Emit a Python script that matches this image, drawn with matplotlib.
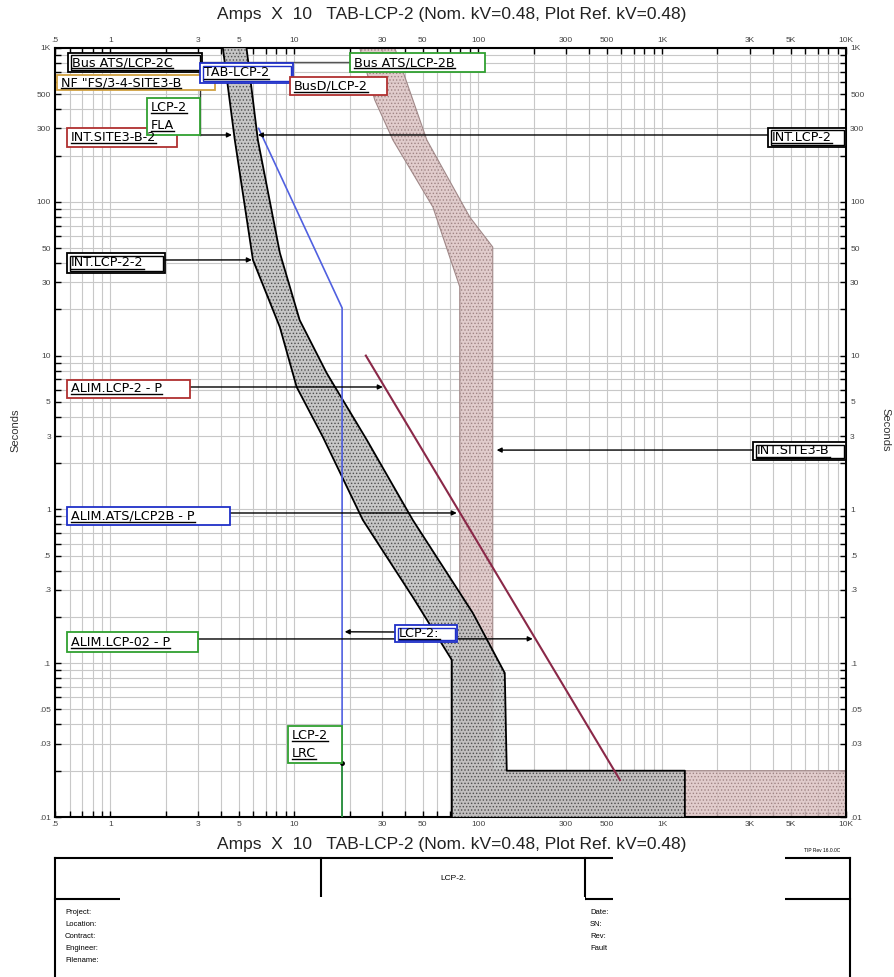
import matplotlib
matplotlib.use('Agg')
import matplotlib.pyplot as plt
from matplotlib.patches import Rectangle
from matplotlib.lines import Line2D

# ---- values (amps x 10 / seconds) ----
# INT.LCP-2-2 breaker band (grey)
lcp_lo_amps = [4.09, 4.75, 5.96, 8.35, 10.3, 14.3, 23.6, 44.1, 71.9, 71.9]
lcp_lo_secs = [1000, 252, 41.9, 15.3, 6.25, 2.96, 0.853, 0.269, 0.105, 0.01]
lcp_hi_amps = [5.5, 6.34, 8.35, 10.7, 15.0, 24.8, 44.1, 93.5, 139.5, 143, 1330, 1330]
lcp_hi_secs = [1000, 252, 46.5, 17.0, 7.7, 2.83, 0.853, 0.212, 0.0863, 0.02, 0.02, 0.01]

# INT.SITE3-B upstream breaker band (pink)
site_lo_amps = [22.7, 27.4, 34.4, 56.7, 79.4, 79.4]
site_lo_secs = [1000, 459, 252, 92.5, 28, 0.01]
site_hi_amps = [35.2, 52.6, 90, 120, 120, 20000, 20000]
site_hi_secs = [1000, 252, 79.6, 50.8, 0.02, 0.02, 0.01]

# TAB-LCP-2 damage curve (blue)
tab_amps = [6.4, 18.2, 18.2]
tab_secs = [300, 20.4, 0.01]

# ALIM cable I2t line (maroon)
alim_amps = [24.5, 590]
alim_secs = [10, 0.0174]

# LCP-2 LRC marker (green)
lrc_amps = [18.2, 18.2]
lrc_secs = [0.0224, 0.01]

x_ticks = [0.5, 1, 3, 5, 10, 30, 50, 100, 300, 500, 1000, 3000, 5000, 10000]
x_labels = ['.5', '1', '3', '5', '10', '30', '50', '100', '300', '500', '1K', '3K', '5K', '10K']
y_ticks = [0.01, 0.03, 0.05, 0.1, 0.3, 0.5, 1, 3, 5, 10, 30, 50, 100, 300, 500, 1000]
y_labels = ['.01', '.03', '.05', '.1', '.3', '.5', '1', '3', '5', '10', '30', '50', '100', '300', '500', '1K']

# label boxes: text lines, box in reference pixels, edge colour, double border
labels = [
    (['Bus ATS/LCP-2C'], 68, 53, 202, 72, 'black', True),
    (['NF "FS/3-4-SITE3-B'], 57, 75, 215, 90, '#d0a040', False),
    (['TAB-LCP-2'], 200, 63, 293, 83, '#2030c8', True),
    (['BusD/LCP-2'], 290, 77, 387, 95, '#b03030', False),
    (['Bus ATS/LCP-2B'], 350, 53, 485, 72, '#30a030', False),
    (['INT.SITE3-B-2'], 67, 128, 177, 147, '#b03030', False),
    (['LCP-2', 'FLA'], 147, 98, 200, 135, '#30a030', False),
    (['INT.LCP-2'], 768, 128, 846, 147, 'black', True),
    (['INT.LCP-2-2'], 67, 253, 165, 273, 'black', True),
    (['ALIM.LCP-2 - P'], 67, 380, 190, 398, '#b03030', False),
    (['INT.SITE3-B'], 753, 442, 846, 460, 'black', True),
    (['ALIM.ATS/LCP2B - P'], 67, 507, 230, 525, '#2030c8', False),
    (['ALIM.LCP-02 - P'], 67, 632, 198, 652, '#30a030', False),
    (['LCP-2:'], 395, 625, 457, 642, '#2030c8', True),
    (['LCP-2', 'LRC'], 288, 726, 342, 763, '#30a030', False),
]
# arrows: start (reference pixels), tip (amps, seconds)
arrows = [
    (165, 260, 5.88, 41.9),
    (190, 387, 30.3, 6.25),
    (753, 450, 126, 2.43),
    (230, 513, 76.5, 0.948),
    (198, 639, 198, 0.144),
    (395, 632, 18.8, 0.16),
    (200, 135, 4.58, 272),
    (768, 135, 6.34, 272),
]

W, H = 894, 977
AX_L, AX_R, AX_T, AX_B = 55, 846, 48, 817


def fx(px):
    return (px - AX_L) / (AX_R - AX_L)


def fy(py):
    return (AX_B - py) / (AX_B - AX_T)


plt.rcParams['font.family'] = ['Liberation Sans', 'DejaVu Sans']
plt.rcParams['hatch.linewidth'] = 0.6

fig = plt.figure(figsize=(W / 100, H / 100), dpi=100)
ax = fig.add_axes([AX_L / W, 1 - AX_B / H, (AX_R - AX_L) / W, (AX_B - AX_T) / H])
ax.set_xscale('log')
ax.set_yscale('log')
ax.set_xlim(0.5, 10000)
ax.set_ylim(0.01, 1000)

# ticks and grid
minor_x = [m * 10 ** d for d in range(-1, 4) for m in range(1, 10)]
minor_x = [v for v in minor_x if 0.5 <= v <= 10000 and v not in x_ticks]
minor_y = [m * 10 ** d for d in range(-2, 3) for m in range(1, 10)]
minor_y = [v for v in minor_y if 0.01 <= v <= 1000 and v not in y_ticks]
ax.set_xticks(x_ticks)
ax.set_xticklabels(x_labels)
ax.set_yticks(y_ticks)
ax.set_yticklabels(y_labels)
ax.set_xticks(minor_x, minor=True)
ax.set_yticks(minor_y, minor=True)
ax.xaxis.set_minor_formatter(plt.NullFormatter())
ax.yaxis.set_minor_formatter(plt.NullFormatter())
ax.tick_params(which='both', direction='in', top=True, right=True,
               labeltop=True, labelright=True, labelsize=6,
               labelcolor='#444444', length=4, width=1, pad=3)
ax.grid(which='both', color='#c8c8c8', lw=0.8)
ax.set_axisbelow(True)
for s in ax.spines.values():
    s.set_linewidth(1.5)

# pink band
site_x = site_lo_amps + site_hi_amps[::-1]
site_y = site_lo_secs + site_hi_secs[::-1]
ax.fill(site_x, site_y, facecolor='#dcc4c4', edgecolor='none', alpha=0.85, zorder=2)
ax.fill(site_x, site_y, facecolor='none', edgecolor='#a08585', hatch='.....', lw=0, zorder=2)
ax.plot(site_lo_amps, site_lo_secs, color='#a08888', lw=0.8, zorder=2)
ax.plot(site_hi_amps, site_hi_secs, color='#a08888', lw=0.8, zorder=2)

# grey band
lcp_x = lcp_lo_amps + lcp_hi_amps[::-1]
lcp_y = lcp_lo_secs + lcp_hi_secs[::-1]
ax.fill(lcp_x, lcp_y, facecolor='#bdbdbd', edgecolor='none', alpha=0.85, zorder=3)
ax.fill(lcp_x, lcp_y, facecolor='none', edgecolor='#505050', hatch='.....', lw=0, zorder=3)
ax.plot(lcp_lo_amps, lcp_lo_secs, color='black', lw=1.3, zorder=3)
ax.plot(lcp_hi_amps, lcp_hi_secs, color='black', lw=1.3, zorder=3)

ax.plot(tab_amps, tab_secs, color='#5060e0', lw=1.2, zorder=4)
ax.plot(alim_amps, alim_secs, color='#8a2848', lw=1.5, zorder=4)
ax.plot(lrc_amps, lrc_secs, color='#2a9a2a', lw=1.2, zorder=4)
ax.plot(lrc_amps[:1], lrc_secs[:1], 'o', color='black', ms=2.5, zorder=5)

# connector lines near the top labels
ax.plot([fx(202), fx(350)], [fy(62), fy(62)], color='#555555', lw=1,
        transform=ax.transAxes, zorder=5)
ax.plot([fx(200), fx(200)], [fy(83), fy(135)], color='#333333', lw=1,
        transform=ax.transAxes, zorder=5)

for sx, sy, tx, ty in arrows:
    ax.annotate('', xy=(tx, ty), xycoords='data',
                xytext=(fx(sx), fy(sy)), textcoords='axes fraction',
                arrowprops=dict(arrowstyle='-|>', color='black', lw=1,
                                shrinkA=0, shrinkB=0, mutation_scale=7),
                zorder=6)

texts = []
for lines, x0, y0, x1, y1, col, dbl in labels:
    r = Rectangle((fx(x0), fy(y1)), fx(x1) - fx(x0), fy(y0) - fy(y1),
                  transform=ax.transAxes, facecolor='white', edgecolor=col,
                  lw=1.3, zorder=7, clip_on=True)
    ax.add_patch(r)
    if dbl:
        r2 = Rectangle((fx(x0 + 2.5), fy(y1 - 2.5)), fx(x1 - 2.5) - fx(x0 + 2.5),
                       fy(y0 + 2.5) - fy(y1 - 2.5), transform=ax.transAxes,
                       facecolor='none', edgecolor=col, lw=1.0, zorder=7, clip_on=True)
        ax.add_patch(r2)
    n = len(lines)
    step = (y1 - y0) / n
    for i, s in enumerate(lines):
        cy = y0 + step * (i + 0.5)
        t = ax.text(fx(x0 + 4), fy(cy), s, transform=ax.transAxes, fontsize=9.2,
                    family=['DejaVu Sans'], ha='left', va='center', zorder=8,
                    clip_on=True)
        texts.append(t)

# underline every label line
fig.canvas.draw()
ren = fig.canvas.get_renderer()
inv = ax.transAxes.inverted()
ax_right_disp = ax.transAxes.transform((1, 0))[0]
for t in texts:
    bb = t.get_window_extent(ren)
    xa = bb.x0
    xb = min(bb.x1, ax_right_disp)
    (ux0, uy), (ux1, _) = inv.transform([(xa, bb.y0 + 1), (xb, bb.y0 + 1)])
    ax.add_line(Line2D([ux0, ux1], [uy, uy], transform=ax.transAxes,
                       color='black', lw=1.0, zorder=8))

title = 'Amps  X  10   TAB-LCP-2 (Nom. kV=0.48, Plot Ref. kV=0.48)'
fig.text(452 / W, 1 - 15 / H, title, ha='center', va='center', fontsize=12.5, color='#222222')
fig.text(452 / W, 1 - 845 / H, title, ha='center', va='center', fontsize=12.5, color='#222222')
fig.text(15 / W, 1 - 430 / H, 'Seconds', rotation=90, ha='center', va='center', fontsize=8, color='#333333')
fig.text(885 / W, 1 - 430 / H, 'Seconds', rotation=-90, ha='center', va='center', fontsize=8, color='#333333')


# title block at the bottom
def fline(x0, y0, x1, y1, lw=1.5):
    fig.add_artist(Line2D([x0 / W, x1 / W], [1 - y0 / H, 1 - y1 / H],
                          transform=fig.transFigure, color='black', lw=lw, zorder=2))


def fmask(x0, y0, x1, y1):
    fig.add_artist(Rectangle((x0 / W, 1 - y1 / H), (x1 - x0) / W, (y1 - y0) / H,
                             transform=fig.transFigure, facecolor='white',
                             edgecolor='none', zorder=5))


fline(55, 858, 850, 858)
fline(55, 858, 55, 977)
fline(850, 858, 850, 977)
fline(55, 899, 850, 899)
fline(321, 858, 321, 899)
fline(585, 858, 585, 899)
# blanked-out parts of the title block, as in the reference
fmask(120, 897, 585, 977)
fmask(613, 854, 785, 977)
fig.text(453 / W, 1 - 879 / H, 'LCP-2.', ha='center', va='center', fontsize=6)
fig.text(822 / W, 1 - 851 / H, 'TIP Rev 16.0.0C', ha='center', va='center', fontsize=3.5)
for i, s in enumerate(['Project:', 'Location:', 'Contract:', 'Engineer:', 'Filename:']):
    fig.text(65 / W, 1 - (912 + 12.2 * i) / H, s, ha='left', va='center', fontsize=5.5)
for i, s in enumerate(['Date:', 'SN:', 'Rev:', 'Fault']):
    fig.text(590 / W, 1 - (912 + 12.2 * i) / H, s, ha='left', va='center', fontsize=5.5,
             zorder=1)

fig.savefig('out.png', dpi=100)
